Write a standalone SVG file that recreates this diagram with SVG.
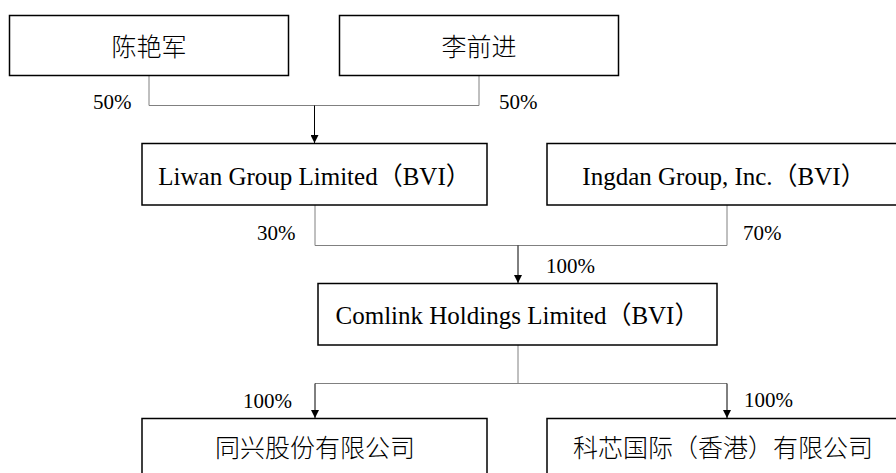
<svg xmlns="http://www.w3.org/2000/svg" width="896" height="473" viewBox="0 0 896 473">
<style>
.box{fill:#fff;stroke:#000;stroke-width:1.5}
.link{fill:none;stroke:#808080;stroke-width:1}
.arrow{fill:none;stroke:#000;stroke-width:1;marker-end:url(#ah)}
.t{font-family:"Liberation Serif","Noto Sans CJK SC",serif;font-size:25px;fill:#000;text-anchor:middle}
.c{font-family:"Noto Sans CJK SC",sans-serif;font-size:25px;fill:#000;text-anchor:middle;font-weight:300}
.p{font-family:"Liberation Serif",serif;font-size:21px;fill:#000}
</style>
<defs>
<marker id="ah" viewBox="0 0 10 10" refX="10" refY="5" markerWidth="10" markerHeight="8" markerUnits="userSpaceOnUse" orient="auto">
<path d="M0,0 L10,5 L0,10 z" fill="#000"/>
</marker>
</defs>
<rect width="896" height="473" fill="#fff"/>
<g id="connectors">
<path class="link" d="M149 76 V105.5 H479 V76"/>
<path class="arrow" d="M314.5 105.5 V143"/>
<path class="link" d="M315 205 V245.5 H727 V205"/>
<path class="arrow" d="M518 245.5 V283"/>
<path class="link" d="M518 345 V383.5"/>
<path class="link" d="M315 383.5 H727"/>
<path class="arrow" d="M315 383.5 V418"/>
<path class="arrow" d="M727 383.5 V418"/>
<text class="p" x="93" y="109">50%</text>
<text class="p" x="499" y="109">50%</text>
<text class="p" x="257" y="240">30%</text>
<text class="p" x="743" y="240">70%</text>
<text class="p" x="546" y="273">100%</text>
<text class="p" x="243" y="408">100%</text>
<text class="p" x="744" y="407">100%</text>
</g>
<g id="node-chen">
<rect class="box" x="9.5" y="15.5" width="279" height="60"/>
<text class="c" x="149" y="56">陈艳军</text>
</g>
<g id="node-li">
<rect class="box" x="339.5" y="15.5" width="279" height="60"/>
<text class="c" x="479" y="56">李前进</text>
</g>
<g id="node-liwan">
<rect class="box" x="142" y="143.5" width="345" height="61.5"/>
<text class="t" x="314.5" y="185">Liwan Group Limited（BVI）</text>
</g>
<g id="node-ingdan">
<rect class="box" x="547" y="143.5" width="352" height="61.5"/>
<text class="t" x="724" y="185">Ingdan Group, Inc.（BVI）</text>
</g>
<g id="node-comlink">
<rect class="box" x="318" y="283.5" width="399" height="61.5"/>
<text class="t" x="517.5" y="324">Comlink Holdings Limited（BVI）</text>
</g>
<g id="node-tongxing">
<rect class="box" x="142" y="418.5" width="345" height="70"/>
<text class="c" x="315" y="457">同兴股份有限公司</text>
</g>
<g id="node-kexin">
<rect class="box" x="547" y="418.5" width="352" height="70"/>
<text class="c" x="723" y="457">科芯国际（香港）有限公司</text>
</g>
</svg>
